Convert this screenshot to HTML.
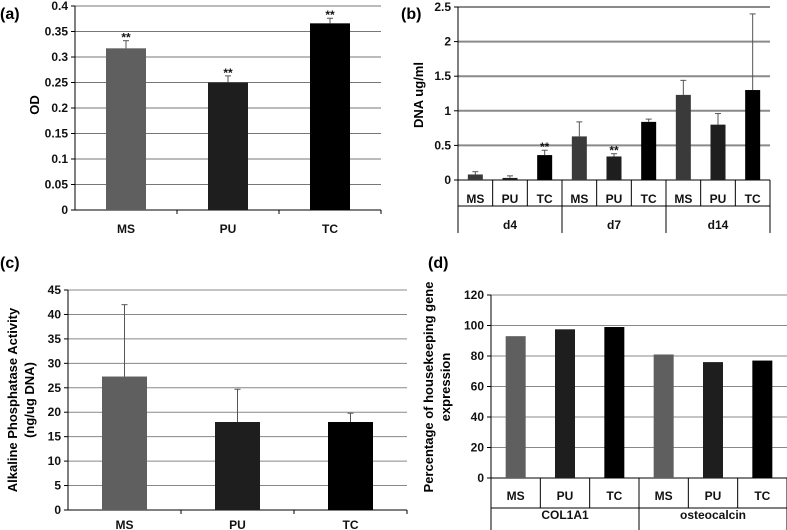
<!DOCTYPE html>
<html><head><meta charset="utf-8"><style>
body{margin:0;background:#fff;}
svg{display:block;font-family:"Liberation Sans",sans-serif;}
.t{font-size:12px;fill:#111;font-weight:bold}
.b{font-weight:bold}
</style></head><body>
<svg id="s" width="787" height="530">
<text x="0" y="19" class="b" font-size="16">(a)</text>
<text x="401" y="19" class="b" font-size="16">(b)</text>
<text x="0" y="268" class="b" font-size="16">(c)</text>
<text x="428" y="268" class="b" font-size="16">(d)</text>
<text transform="translate(39,105) rotate(-90)" text-anchor="middle" class="b" font-size="13">OD</text>
<text transform="translate(423,95) rotate(-90)" text-anchor="middle" class="b" font-size="13">DNA ug/ml</text>
<text transform="translate(17,400) rotate(-90)" text-anchor="middle" class="b" font-size="13">Alkaline Phosphatase Activity</text>
<text transform="translate(34,400) rotate(-90)" text-anchor="middle" class="b" font-size="13">(ng/ug DNA)</text>
<text transform="translate(433,387) rotate(-90)" text-anchor="middle" class="b" font-size="13">Percentage of housekeeping gene</text>
<text transform="translate(450,387) rotate(-90)" text-anchor="middle" class="b" font-size="13">expression</text>
</svg>
<script>
const catsA=["MS","PU","TC"];
const valsA=[0.317,0.25,0.366];
const errA=[0.015,0.013,0.010];
const ticksA=["0","0.05","0.1","0.15","0.2","0.25","0.3","0.35","0.4"];
const starsA=[true,true,true];

const catsB=["MS","PU","TC","MS","PU","TC","MS","PU","TC"];
const groupsB=["d4","d7","d14"];
const valsB=[0.08,0.03,0.36,0.63,0.34,0.84,1.23,0.80,1.30];
const errB=[0.04,0.03,0.07,0.21,0.04,0.04,0.21,0.16,1.10];
const ticksB=["0","0.5","1","1.5","2","2.5"];
const starsB=[false,false,true,false,true,false,false,false,false];

const catsC=["MS","PU","TC"];
const valsC=[27.3,18,18];
const errC=[14.7,6.7,1.8];
const ticksC=["0","5","10","15","20","25","30","35","40","45"];

const catsD=["MS","PU","TC","MS","PU","TC"];
const groupsD=["COL1A1","osteocalcin"];
const valsD=[93,97.5,99,81,76,77];
const ticksD=["0","20","40","60","80","100","120"];

const NS="http://www.w3.org/2000/svg";
const svg=document.getElementById('s');
function el(t,a){const e=document.createElementNS(NS,t);for(const k in a)e.setAttribute(k,a[k]);svg.appendChild(e);return e;}
const colsA=["#5f5f5f","#1e1e1e","#000"];

function chart(o){
  const n=o.cats.length, bw=(o.x1-o.x0)/n;
  const max=parseFloat(o.ticks[o.ticks.length-1]);
  const y=v=>o.y0-(v/max)*(o.y0-o.y1);
  o.ticks.forEach((t,i)=>{
    const yy=y(parseFloat(t));
    if(i>0){const g=el('line',{x1:o.x0,x2:o.x1,y1:yy,y2:yy,stroke:o.grid,'stroke-width':o.gw});
      
      }
    const tk=el('line',{x1:o.x0-4,x2:o.x0,y1:yy,y2:yy,stroke:'#000'});
    
    
    const tl=el('text',{x:o.x0-7,y:yy+4,'text-anchor':'end',class:'t'});tl.textContent=t;
    
    
  });
  const ax=el('line',{x1:o.x0,x2:o.x0,y1:o.y1,y2:o.y0,stroke:'#000'});
  
  
  const bx=el('line',{x1:o.x0,x2:o.x1,y1:o.y0,y2:o.y0,stroke:'#000'});
  
  
  o.cats.forEach((c,i)=>{
    const cx=o.x0+bw*(i+0.5), v=o.vals[i];
    const r=el('rect',{x:cx-o.bar/2,y:y(v),width:o.bar,height:o.y0-y(v),fill:o.cols[i%3]});
    
    
    if(o.err){const e=y(v+o.err[i]);
      const l=el('line',{x1:cx,x2:cx,y1:y(v),y2:e,stroke:'#555'});
      
      
      const cap=el('line',{x1:cx-3,x2:cx+3,y1:e,y2:e,stroke:'#555'});
      
      
      if(o.stars&&o.stars[i]){const s=el('text',{x:cx,y:e+1,'text-anchor':'middle',class:'t b','font-size':'17'});s.textContent='**';
        
        }
    }
    const lb=el('text',{x:cx,y:o.ly,'text-anchor':'middle',class:'t','font-size':o.fs||12});lb.textContent=c;
    
    
    const sepLen=o.groups?(((i+1)%3===0)?o.gy2:o.sepB):o.y0+4;
    const tk=el('line',{x1:o.x0+bw*(i+1),x2:o.x0+bw*(i+1),y1:o.y0,y2:sepLen,stroke:'#000'});
    
    
  });
  if(o.groups){
    const s0=el('line',{x1:o.x0,x2:o.x0,y1:o.y0,y2:o.gy2,stroke:'#000'});
    
    
    const hl=el('line',{x1:o.x0,x2:o.x1,y1:o.sepB,y2:o.sepB,stroke:'#000'});
    
    
    o.groups.forEach((g,j)=>{
      const t=el('text',{x:o.x0+bw*(3*j+1.5),y:o.gy,'text-anchor':'middle',class:'t'});t.textContent=g;
      
      
    });
  }
}
chart({p:'panel-a',cats:catsA,vals:valsA,err:errA,stars:starsA,ticks:ticksA,x0:75,x1:381,y0:210,y1:6,bar:40,cols:colsA,grid:'#777',gw:1,ly:233,fs:13});
chart({p:'panel-b',cats:catsB,vals:valsB,err:errB,stars:starsB,ticks:ticksB,x0:458,x1:770,y0:180,y1:7,bar:15,cols:["#3a3a3a","#1e1e1e","#000"],grid:'#8a8a8a',gw:2,ly:203,groups:groupsB,gy:229,sepB:206,gy2:233});
chart({p:'panel-c',cats:catsC,vals:valsC,err:errC,ticks:ticksC,x0:68,x1:407,y0:510,y1:290,bar:45,cols:colsA,grid:'#888',gw:1,ly:529,fs:13});
chart({p:'panel-d',cats:catsD,vals:valsD,ticks:ticksD,x0:491,x1:787,y0:478,y1:295,bar:20,cols:colsA,grid:'#888',gw:1,ly:500,groups:groupsD,gy:519,sepB:508,gy2:530});
</script>
</body></html>
